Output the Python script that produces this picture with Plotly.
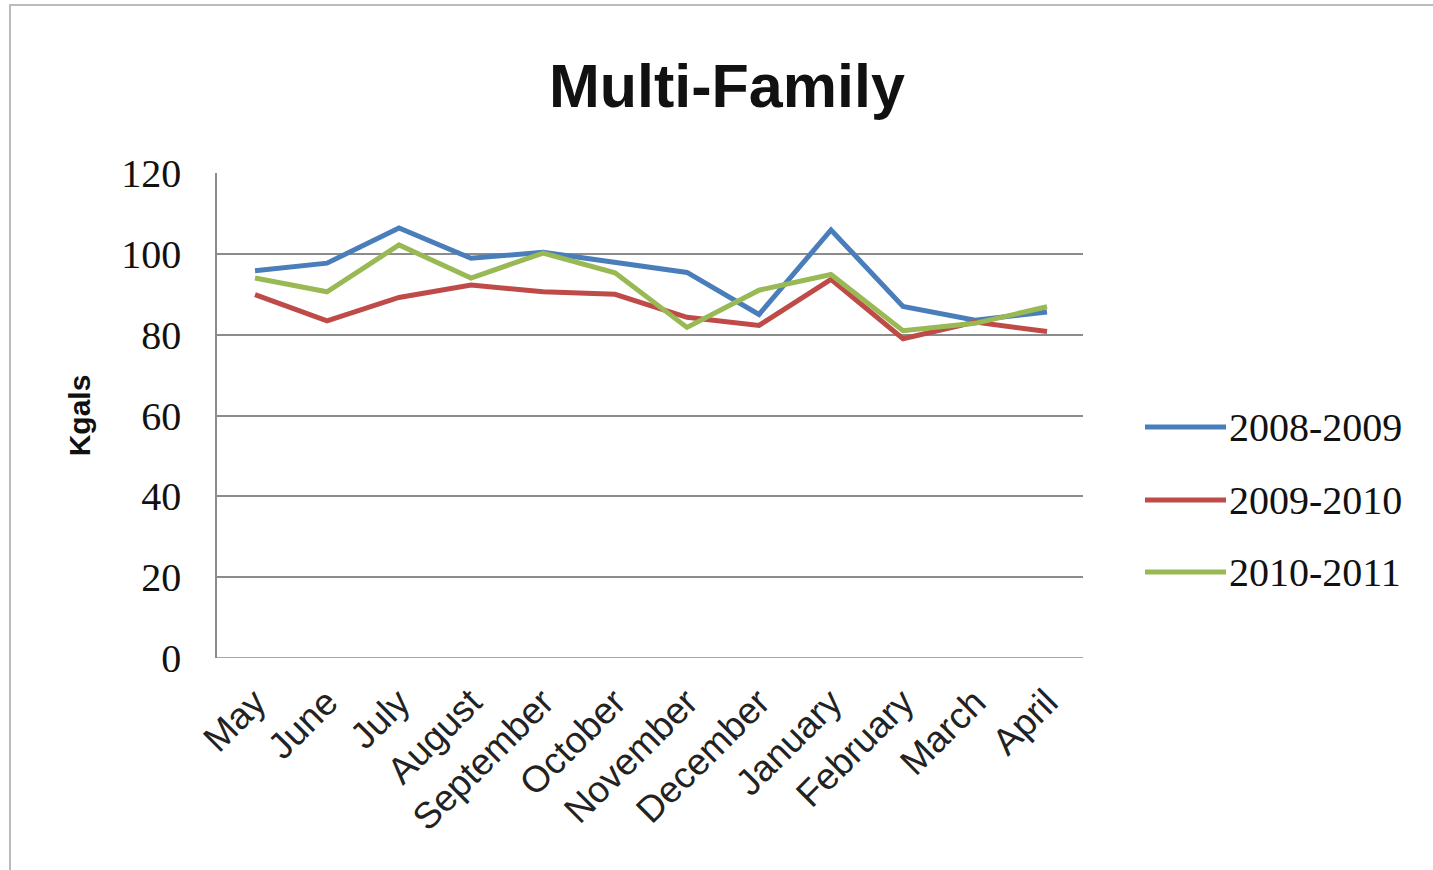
import plotly.graph_objects as go

months = ["May", "June", "July", "August", "September", "October", "November",
          "December", "January", "February", "March", "April"]
series_names = ["2008-2009", "2009-2010", "2010-2011"]
s2008 = [95.8, 97.7, 106.4, 98.9, 100.4, 98.0, 95.4, 85.0, 105.9, 87.0, 83.6, 85.6]
s2009 = [89.9, 83.4, 89.2, 92.3, 90.6, 90.0, 84.3, 82.3, 93.7, 79.0, 83.1, 80.8]
s2010 = [94.0, 90.6, 102.2, 94.0, 100.2, 95.3, 81.8, 91.0, 94.9, 81.0, 82.8, 86.9]
colors = ["#4A7EBB", "#BE4B48", "#98B954"]
yticks = [0, 20, 40, 60, 80, 100, 120]

L, R, T, B = 217, 350, 173, 212
W, H = 1433, 870
pw, ph = W - L - R, H - T - B

def px(x):
    return (x - L) / pw

def py(y):
    return (H - B - y) / ph

fig = go.Figure()
for name, vals, c in zip(series_names, [s2008, s2009, s2010], colors):
    fig.add_trace(go.Scatter(x=list(range(len(months))), y=vals, mode="lines",
                             name=name, line=dict(color=c, width=5),
                             showlegend=False))

shapes = [dict(type="rect", xref="paper", yref="paper",
               x0=px(10), x1=px(1440), y0=py(878), y1=py(5),
               line=dict(color="#BBBBBB", width=2), fillcolor="rgba(0,0,0,0)", layer="below")]
annotations = [dict(text="<b>Multi-Family</b>", xref="paper", yref="paper",
                    x=px(727), y=py(86), showarrow=False, yanchor="middle",
                    font=dict(family="Liberation Sans, Arial", size=61, color="#111"))]
leg_y = [427, 500, 572]
for name, c, yy in zip(series_names, colors, leg_y):
    shapes.append(dict(type="line", xref="paper", yref="paper",
                       x0=px(1145), x1=px(1226), y0=py(yy), y1=py(yy),
                       line=dict(color=c, width=5)))
    annotations.append(dict(text=name, xref="paper", yref="paper", x=px(1227), y=py(yy),
                            xanchor="left", yanchor="middle", showarrow=False,
                            font=dict(family="Liberation Serif, serif", size=40, color="#111")))

fig.update_layout(
    width=W, height=H,
    margin=dict(l=L, r=R, t=T, b=B),
    paper_bgcolor="white", plot_bgcolor="white",
    shapes=shapes, annotations=annotations,
    showlegend=False,
)
fig.update_xaxes(
    range=[-0.528, 11.5], tickmode="array", tickvals=list(range(len(months))),
    ticktext=months, tickangle=-45, showgrid=False, zeroline=False,
    showline=False, ticks="", ticklabelstandoff=14,
    tickfont=dict(family="Liberation Sans, Arial", size=37, color="#222"),
)
fig.update_yaxes(
    range=[0, 120], tickmode="array", tickvals=yticks, ticktext=[str(v) for v in yticks],
    showgrid=True, gridcolor="#8C8C8C", gridwidth=1.5, zeroline=False,
    showline=True, linecolor="#8C8C8C", linewidth=1.5, ticks="",
    ticklabelstandoff=26,
    tickfont=dict(family="Liberation Serif, serif", size=40, color="#111"),
    title=dict(text="<b>Kgals</b>", standoff=22,
               font=dict(family="Liberation Sans, Arial", size=30, color="#111")),
)
fig.add_hline(y=0, line=dict(color="#8C8C8C", width=1.5))

fig.write_html("out.html")
